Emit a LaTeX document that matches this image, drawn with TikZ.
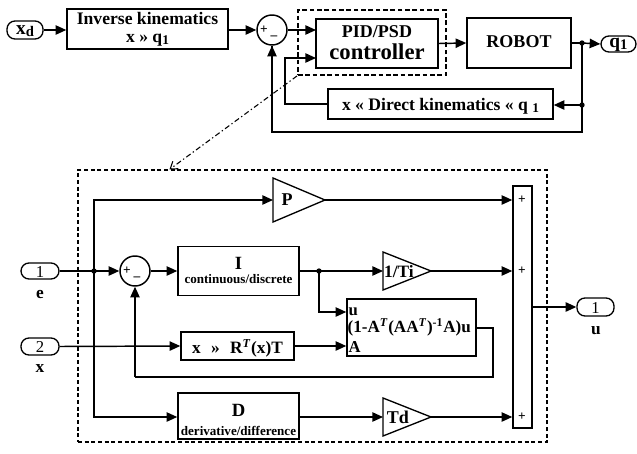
\documentclass[tikz,border=0pt]{standalone}
\usepackage{fontspec}
\setmainfont{Liberation Serif}
\usetikzlibrary{arrows.meta,calc}
\newcommand{\fsz}[1]{\fontsize{#1}{#1}\selectfont}
\begin{document}
\begin{tikzpicture}[x=0.75pt,y=-0.75pt,line width=1.1pt,font=\bfseries,
  blk/.style={draw,rectangle,inner sep=0pt,line width=1.1pt},
  term/.style={draw,rounded corners=6pt,inner sep=0pt,line width=1pt},
  arr/.style={-{Triangle[length=8pt,width=7pt]}},
  dotn/.style={circle,fill,inner sep=0pt,minimum size=4pt},
  sumc/.style={draw,circle,minimum size=22.5pt,inner sep=0pt,line width=1.1pt},
  tri/.style={draw,line width=1pt,line join=miter},
  txt/.style={inner sep=0pt,anchor=base,font=\bfseries\fsz{13.5}},
  sml/.style={inner sep=0pt,anchor=base,font=\bfseries\fsz{9.8}},
  sgn/.style={inner sep=0pt,font=\bfseries\fsz{10}},
  num/.style={inner sep=0pt,anchor=base,font=\fsz{12.5}}]
\useasboundingbox (0,0) rectangle (637,454);

% ---------------- top loop ----------------
\node[term,minimum width=27pt,minimum height=13.5pt] (xd) at (25,30) {};
\node[txt,font=\bfseries\fsz{14.5}] (xdt) at (25,34) {x\raisebox{-0.3ex}{\fsz{11}d}};
\node[blk,minimum width=120.75pt,minimum height=30pt,align=center,inner sep=0pt,
      font=\bfseries\fontsize{13.2}{13.4}\selectfont] (inv) at (147.5,29)
      {Inverse kinematics\\x » q\raisebox{-0.35ex}{\fsz{10}1}};
\node[sumc] (s1) at (272,30) {};
\node[sgn] (s1p) at (264,30) {+};
\node[sgn] (s1m) at (274,38) {–};
\node[draw,line width=1.4pt,dash pattern=on 3.5pt off 2pt,minimum width=111pt,minimum height=48.75pt,inner sep=0pt] (grp) at (372,42.5) {};
\node[blk,minimum width=91.5pt,minimum height=36.75pt] (pid) at (377,43.5) {};
\node[txt] (pid1) at (377,37) {PID/PSD};
\node[txt,font=\bfseries\fsz{17}] (pid2) at (377,59) {controller};
\node[blk,minimum width=78pt,minimum height=37.5pt] (robot) at (519,43) {};
\node[txt] (robt) at (519,47.5) {ROBOT};
\node[term,minimum width=26.25pt,minimum height=12pt] (q1) at (618.5,44) {};
\node[txt,font=\bfseries\fsz{14.5}] (q1t) at (618.5,47) {q\raisebox{-0.3ex}{\fsz{11}1}};
\node[blk,minimum width=168.75pt,minimum height=22.5pt] (dir) at (440.5,104) {};
\node[txt,font=\bfseries\fsz{13.2}] (dirt) at (440.5,110) {x « Direct kinematics « q \raisebox{-0.35ex}{\fsz{10}1}};
\node[dotn] (dq) at (582,43) {};
\node[dotn] (dd) at (582,105) {};
\coordinate (pidin1) at (316,30);
\coordinate (pidin2) at (316,58);

\draw[arr] (xd.east) -- (xd.east -| inv.west);
\draw[arr] (inv.east |- s1.west) -- (s1.west);
\draw[arr] (s1.east) -- (pidin1);
\draw[arr] (pid.east) -- (robot.west);
\draw (robot.east) -- (dq.center);
\draw[arr] (dq.center) -- (q1.west);
\draw (dq.center) -- (dd.center);
\draw[arr] (dd.center) -- (dir.east |- dd);
\draw (dd.center) -- (582,132) -| (s1.south) ;
\draw[arr] (272,110) -- (s1.south);
\draw[arr] (dir.west) -| (285,58) -- (pidin2);

% ---------------- detail ----------------
\node[draw,line width=0.8pt,dash pattern=on 3pt off 2pt,minimum width=351.75pt,minimum height=204pt,inner sep=0pt] (big) at (312.5,306) {};
\draw[line width=0.8pt,dash pattern=on 4pt off 2pt on 1pt off 2pt,-{Straight Barb[length=5pt,width=7pt]}] (grp.south west) -- ($(big.north west)+(92,0)$);

\node[term,minimum width=28.5pt,minimum height=12pt] (t1) at (40,271) {};
\node[num] (t1t) at (40,277) {1};
\node[txt,font=\bfseries\fsz{13}] (el) at (40,298) {e};
\node[term,minimum width=28.5pt,minimum height=12.75pt] (t2) at (40,346.5) {};
\node[num] (t2t) at (40,352) {2};
\node[txt,font=\bfseries\fsz{13}] (xl) at (40,372) {x};
\node[term,minimum width=27.75pt,minimum height=13.5pt] (tu) at (595.5,307) {};
\node[num] (tut) at (595.5,313) {1};
\node[txt,font=\bfseries\fsz{13}] (ul) at (596,334) {u};

\node[dotn] (d1) at (94,271) {};
\node[sumc] (s2) at (135,271) {};
\node[sgn] (s2p) at (127,271) {+};
\node[sgn] (s2m) at (137,279) {–};

\node[blk,minimum width=90.75pt,minimum height=36.75pt] (I) at (238.5,271) {};
\node[txt,font=\bfseries\fsz{14}] (It) at (238.5,269) {I};
\node[sml] (It2) at (238.5,283) {continuous/discrete};

\node[blk,minimum width=90.75pt,minimum height=34.5pt] (D) at (238.5,416) {};
\node[txt,font=\bfseries\fsz{14}] (Dt) at (238.5,416) {D};
\node[sml] (Dt2) at (238.5,435) {derivative/difference};

\node[blk,minimum width=84.75pt,minimum height=21pt] (R) at (237.5,346) {};
\node[txt,font=\bfseries\fsz{13}] (Rt) at (237.5,353) {x\hspace{0.6em}»\hspace{0.6em}R\textsuperscript{\textit{T}}(x)T};

\node[blk,minimum width=96.75pt,minimum height=42.75pt] (proj) at (411.5,327.5) {};
\node[txt,anchor=base west,font=\bfseries\fsz{12.5}] (pu) at (348,315) {u};
\node[txt,anchor=base west,font=\bfseries\fsz{12.8}] (pf) at (347,332) {(1-A\textsuperscript{\textit{T}}(AA\textsuperscript{\textit{T}})\textsuperscript{-1}A)u};
\node[txt,anchor=base west,font=\bfseries\fsz{12.5}] (pa) at (348,352) {A};

\node[dotn] (d2) at (319,271) {};

% gain triangles
\draw[tri] (273,178) -- (325,200) -- (273,222) -- cycle;
\coordinate (Pin) at (273,200); \coordinate (Pout) at (325,200);
\node[txt] (Pt) at (287,205) {P};
\draw[tri] (383,252) -- (431,271) -- (383,290) -- cycle;
\coordinate (Tiin) at (383,271); \coordinate (Tiout) at (431,271);
\node[txt,font=\bfseries\fsz{13}] (Tit) at (399,277) {1/Ti};
\draw[tri] (383,398) -- (431,417) -- (383,436) -- cycle;
\coordinate (Tdin) at (383,417); \coordinate (Tdout) at (431,417);
\node[txt] (Tdt) at (398,423) {Td};

% sum block
\node[blk,minimum width=14.25pt,minimum height=181.5pt] (sb) at (522.5,307) {};
\node[sgn] at (522,200) {+};
\node[sgn] at (522,271) {+};
\node[sgn] at (522,417) {+};

% connectors
\draw (t1.east) -- (d1.center);
\draw[arr] (d1.center) -- (s2.west);
\draw[arr] (d1.center) |- (Pin);
\draw[arr] (d1.center) |- (D.west |- Tdin);
\draw[arr] (s2.east) -- (I.west);
\draw (I.east) -- (d2.center);
\draw[arr] (d2.center) -- (Tiin);
\draw[arr] (Tiout) -- (sb.west |- Tiout);
\draw[arr] (Pout) -- (sb.west |- Pout);
\draw[arr] (d2.center) |- (proj.west |- 0,312);
\draw[arr] (t2.east) -- (R.west);
\draw[arr] (R.east) -- (proj.west |- R.east);
\draw (proj.east |- 0,328) -- (493,328) |- (s2.south |- 0,377);
\draw[arr] (s2.south |- 0,377) -- (s2.south);
\draw[arr] (D.east |- Tdin) -- (Tdin);
\draw[arr] (Tdout) -- (sb.west |- Tdout);
\draw[arr] (sb.east |- tu) -- (tu.west);
\end{tikzpicture}
\end{document}
